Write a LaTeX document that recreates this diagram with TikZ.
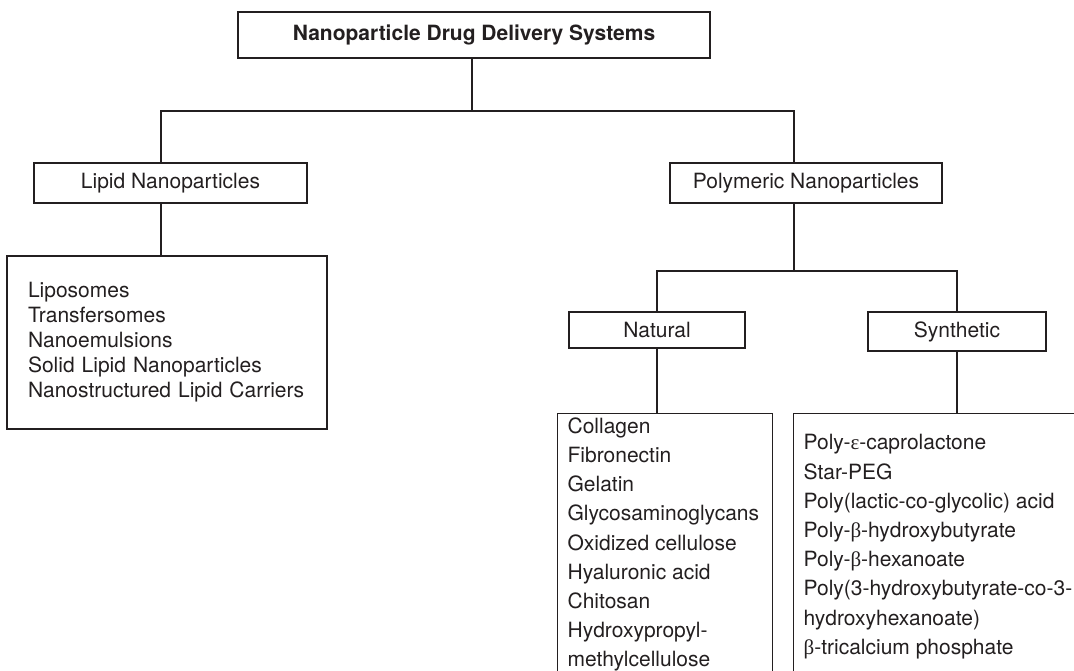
\documentclass[tikz,border=0pt]{standalone}
\usepackage{fontspec}
\setmainfont{TeX Gyre Heros}
\newfontfamily\greekfont{Liberation Serif}
\usepackage{tikz}
\definecolor{ink}{HTML}{231F20}

\begin{document}
\begin{tikzpicture}[x=1pt, y=-1pt, line width=1.2pt, color=ink,
                    main node/.style={rectangle,draw,font=\fontsize{21}{25}\selectfont},
                    list node/.style={align=left,inner sep=0pt,font=\fontsize{21}{29.2}\selectfont}]

  \useasboundingbox (0,0) rectangle (1074,671);
  \clip (0,0) rectangle (1074,671);

  \node[main node, font=\fontsize{21}{25}\selectfont\bfseries, minimum width=472pt, minimum height=46pt] (top) at (474,35) {Nanoparticle Drug Delivery Systems};
  \node[main node, minimum width=273pt, minimum height=40pt] (lipid) at (170.5,183) {Lipid Nanoparticles};
  \node[main node, minimum width=272pt, minimum height=40pt] (poly) at (806,183) {Polymeric Nanoparticles};
  \node[main node, minimum width=176pt, minimum height=36pt] (natural) at (657,330) {Natural};
  \node[main node, minimum width=178pt, minimum height=39pt] (synth) at (957,331.5) {Synthetic};

  \node[main node, align=left, text width=278pt, inner xsep=21pt, minimum height=173pt] (lipidlist) at (167,342.5)
    {Liposomes\\ Transfersomes\\ Nanoemulsions\\ Solid Lipid Nanoparticles\\ Nanostructured Lipid Carriers};

  % the two long lists run off the bottom edge
  \node[main node, anchor=north west, minimum width=215pt, minimum height=300pt] (natlist) at (557,413) {};
  \node[main node, anchor=north west, minimum width=320pt, minimum height=300pt] (synlist) at (793,413) {};
  \node[list node, anchor=north west] (natitems) at (567,417)
    {Collagen\\ Fibronectin\\ Gelatin\\ Glycosaminoglycans\\ Oxidized cellulose\\ Hyaluronic acid\\ Chitosan\\ Hydroxypropyl-\\ methylcellulose};
  \node[list node, anchor=north west] (synitems) at (803,434)
    {Poly-{\greekfont ε}-caprolactone\\ Star-PEG\\ Poly(lactic-co-glycolic) acid\\ Poly-{\greekfont β}-hydroxybutyrate\\ Poly-{\greekfont β}-hexanoate\\
     Poly(3-hydroxybutyrate-co-3-\\ hydroxyhexanoate)\\ {\greekfont β}-tricalcium phosphate};

  \coordinate (split) at (472,111);
  \coordinate (polysplit) at (794,271);

  \draw (top.south -| split) -- (split);
  \draw (lipid.north -| 161,0) |- (split) -| (poly.north -| polysplit);
  \draw (lipid.south -| 161,0) -- (lipidlist.north -| 161,0);
  \draw (poly.south -| polysplit) -- (polysplit);
  \draw (natural.north) |- (polysplit) -| (synth.north);
  \draw (natural.south) -- (natlist.north -| natural.south);
  \draw (synth.south) -- (synlist.north -| synth.south);
\end{tikzpicture}
\end{document}
